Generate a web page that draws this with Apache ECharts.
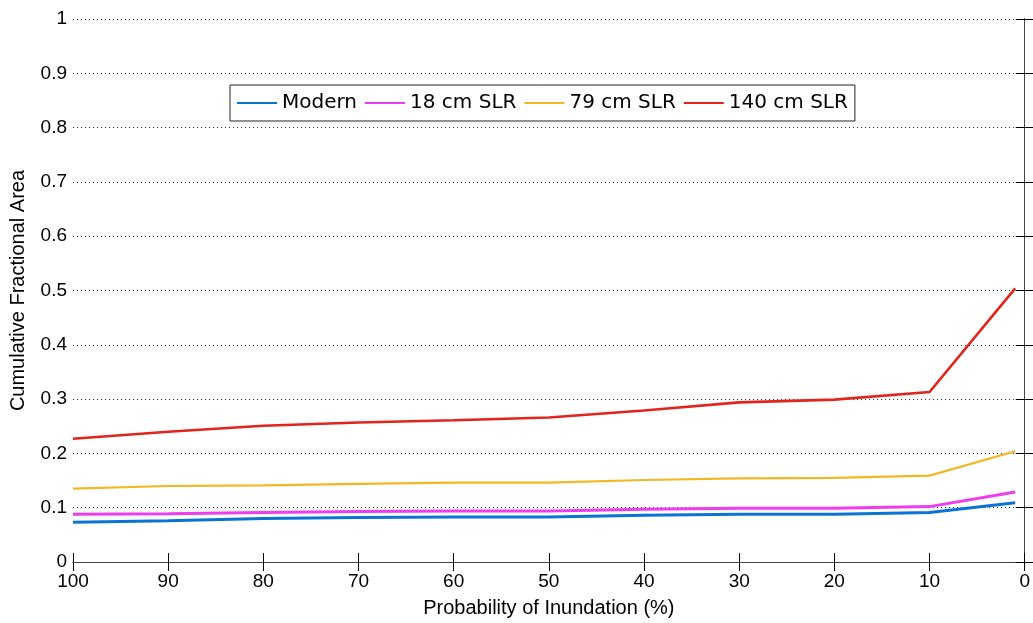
<!DOCTYPE html>
<html>
<head>
<meta charset="utf-8">
<script src="https://cdn.jsdelivr.net/npm/echarts@6/dist/echarts.min.js"></script>
<style>
  html, body { margin: 0; padding: 0; background: #fff; }
  #chart { width: 1033px; height: 623px; }
</style>
</head>
<body>
<div id="chart"></div>
<script>
// probability of inundation (%)
const probability = [100, 90, 80, 70, 60, 50, 40, 30, 20, 10, 1]
const xTicks = [100, 90, 80, 70, 60, 50, 40, 30, 20, 10, 0]
const yTicks = [0, 0.1, 0.2, 0.3, 0.4, 0.5, 0.6, 0.7, 0.8, 0.9, 1]

const modern = [0.073, 0.076, 0.080, 0.082, 0.083, 0.083, 0.086, 0.088, 0.088, 0.091, 0.109]
const slr18 = [0.088, 0.089, 0.091, 0.093, 0.094, 0.094, 0.097, 0.099, 0.099, 0.102, 0.129]
const slr79 = [0.135, 0.140, 0.141, 0.144, 0.146, 0.146, 0.151, 0.154, 0.155, 0.159, 0.204]
const slr140 = [0.227, 0.240, 0.251, 0.257, 0.261, 0.266, 0.279, 0.294, 0.299, 0.313, 0.504]

const seriesNames = ['Modern', '18 cm SLR', '79 cm SLR', '140 cm SLR']
const seriesValues = [modern, slr18, slr79, slr140]
const colors = ['#0a74d6', '#f03cf0', '#f4b721', '#e4231b']
const widths = [3, 3, 2.2, 2.6]

const axisFont = { fontFamily: 'Liberation Sans', fontSize: 19, color: '#000' }

const myChart = echarts.init(document.getElementById('chart'), null, { renderer: 'canvas' })

const series = seriesNames.map((name, i) => {
  return {
    name: name,
    type: 'line',
    symbol: 'none',
    animation: false,
    data: probability.map((p, j) => [p, seriesValues[i][j]]),
    lineStyle: { color: colors[i], width: widths[i] },
    itemStyle: { color: colors[i] },
    z: 3 + i
  }
})

const options = {
  backgroundColor: '#fff',
  animation: false,
  grid: { left: 72, right: 6, top: 19, bottom: 59 },
  legend: {
    left: 230,
    top: 85,
    padding: [8, 7, 8, 7],
    borderColor: '#222',
    borderWidth: 1,
    backgroundColor: '#fff',
    itemWidth: 40,
    itemHeight: 2,
    itemGap: 8,
    icon: 'rect',
    data: seriesNames,
    textStyle: { fontFamily: 'DejaVu Sans', fontSize: 20, color: '#000' }
  },
  xAxis: [{
    type: 'value',
    min: 0,
    max: 100,
    interval: 10,
    inverse: true,
    name: 'Probability of Inundation (%)',
    nameLocation: 'middle',
    nameGap: 36,
    nameTextStyle: Object.assign({}, axisFont, { fontSize: 20 }),
    axisLine: { lineStyle: { color: '#000', width: 1 } },
    axisTick: { inside: true, length: 9, lineStyle: { color: '#000' } },
    axisLabel: Object.assign({}, axisFont, { margin: 10, formatter: (v) => xTicks.includes(v) ? String(v) : '' }),
    splitLine: { show: false }
  }, {
    type: 'value',
    position: 'top',
    min: 0,
    max: 100,
    interval: 10,
    inverse: true,
    axisLine: { lineStyle: { color: '#444', width: 1 } },
    axisTick: { inside: true, length: 9, lineStyle: { color: '#000' } },
    axisLabel: { show: false },
    splitLine: { show: false }
  }],
  yAxis: [{
    type: 'value',
    min: 0,
    max: 1,
    interval: 0.1,
    name: 'Cumulative Fractional Area',
    nameLocation: 'middle',
    nameGap: 45,
    nameTextStyle: Object.assign({}, axisFont, { fontSize: 20 }),
    axisLine: { show: true, lineStyle: { color: '#000', width: 1 } },
    axisTick: { show: true, inside: true, length: 9, lineStyle: { color: '#000' } },
    axisLabel: Object.assign({}, axisFont, { margin: 6, formatter: (v) => String(+v.toFixed(1)) }),
    splitLine: { show: true, lineStyle: { color: '#333', width: 1, type: [1, 3] } }
  }, {
    type: 'value',
    position: 'right',
    min: 0,
    max: 1,
    interval: 0.1,
    axisLine: { show: true, lineStyle: { color: '#444', width: 1 } },
    axisTick: { show: true, inside: true, length: 9, lineStyle: { color: '#000' } },
    axisLabel: { show: false },
    splitLine: { show: false }
  }],
  series: series
}

myChart.setOption(options)
</script>
</body>
</html>
